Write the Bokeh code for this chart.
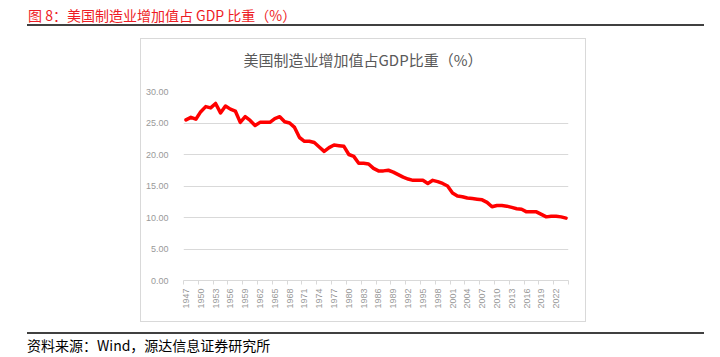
from bokeh.plotting import figure
from bokeh.layouts import column, row
from bokeh.models import Div, Spacer, Range1d, FixedTicker, PrintfTickFormatter
from bokeh.embed import file_html
from bokeh.resources import INLINE

years = list(range(1947, 2025))
share = [25.5, 25.9, 25.6, 26.8, 27.6, 27.4, 28.1, 26.6, 27.7, 27.2,
         26.9, 25.1, 26.0, 25.4, 24.6, 25.1, 25.1, 25.1, 25.7, 26.0,
         25.2, 25.0, 24.3, 22.7, 22.1, 22.1, 21.9, 21.2, 20.5, 21.1,
         21.5, 21.4, 21.3, 20.0, 19.7, 18.6, 18.6, 18.5, 17.8, 17.4,
         17.4, 17.5, 17.2, 16.8, 16.4, 16.1, 15.9, 15.9, 15.9, 15.4,
         15.9, 15.7, 15.4, 15.0, 13.9, 13.4, 13.3, 13.1, 13.0, 12.9,
         12.8, 12.4, 11.7, 11.9, 11.9, 11.8, 11.6, 11.4, 11.3, 10.9,
         10.9, 10.9, 10.5, 10.1, 10.2, 10.2, 10.1, 9.9]
tick_years = list(range(1947, 2023, 3))
y_ticks = [0, 5, 10, 15, 20, 25, 30]

outer_title = "图 8：美国制造业增加值占 GDP 比重（%）"
chart_title = "美国制造业增加值占GDP比重（%）"
source_text = "资料来源：Wind，源达信息证券研究所"

CJK = "'Noto Sans CJK SC', 'Noto Sans', sans-serif"

title_div = Div(
    text=(f'<div style="margin-left:27px;margin-top:8px;width:677px;height:18px;'
          f'border-bottom:2px solid #404040;font-family:{CJK};font-size:14px;'
          f'line-height:15px;color:#EE1C25;white-space:nowrap;padding-left:1px;">'
          f'{outer_title}</div>'),
    width=720, height=38, margin=0)

chart_title_div = Div(
    text=(f'<div style="width:444px;margin-top:12px;text-align:center;'
          f'font-family:{CJK};font-size:15px;line-height:18px;color:#595959;'
          f'white-space:nowrap;">{chart_title}</div>'),
    width=444, height=40, margin=0)

p = figure(width=444, height=242, output_backend="svg", toolbar_location=None,
           x_range=Range1d(1946.5, 2024.5), y_range=Range1d(0, 30),
           min_border_left=42, min_border_right=17, min_border_top=12,
           min_border_bottom=41, margin=0)
p.outline_line_color = None
p.background_fill_color = "white"
p.border_fill_color = "white"

p.line(years, share, line_color="#FF0000", line_width=3.5, line_join="round",
       line_cap="round")

p.xgrid.grid_line_color = None
p.ygrid.ticker = FixedTicker(ticks=y_ticks)
p.ygrid.grid_line_color = "#d9d9d9"
p.ygrid.grid_line_width = 1

p.yaxis.ticker = FixedTicker(ticks=y_ticks)
p.yaxis.formatter = PrintfTickFormatter(format="%.2f")
p.yaxis.axis_line_color = None
p.yaxis.major_tick_line_color = None
p.yaxis.minor_tick_line_color = None
p.yaxis.major_label_standoff = 9
p.yaxis.major_label_text_font = "Liberation Sans"
p.yaxis.major_label_text_font_size = "9px"
p.yaxis.major_label_text_color = "#999999"

minor = [1946.5 + 3 * k for k in range(27)]
p.xaxis.ticker = FixedTicker(ticks=tick_years, minor_ticks=minor)
p.xaxis.major_label_orientation = 1.5708
p.xaxis.axis_line_color = "#d9d9d9"
p.xaxis.major_tick_line_color = None
p.xaxis.major_tick_out = 0
p.xaxis.major_tick_in = 0
p.xaxis.minor_tick_line_color = "#d9d9d9"
p.xaxis.minor_tick_out = 4
p.xaxis.minor_tick_in = 0
p.xaxis.major_label_standoff = 4
p.xaxis.major_label_text_font = "Liberation Sans"
p.xaxis.major_label_text_font_size = "9px"
p.xaxis.major_label_text_color = "#999999"

chart_box = column(chart_title_div, p, width=446, height=284, margin=0,
                   styles={"border": "1px solid #d9d9d9",
                           "box-sizing": "border-box"})

chart_row = row(Spacer(width=140, height=284, margin=0), chart_box, margin=0)

footer_div = Div(
    text=(f'<div style="margin-left:27px;width:677px;margin-top:10px;'
          f'border-top:2px solid #404040;padding-top:3px;font-family:{CJK};'
          f'font-size:14px;line-height:16px;color:#000000;white-space:nowrap;">'
          f'{source_text}</div>'),
    width=720, height=35, margin=0)

layout = column(title_div, chart_row, footer_div, margin=0)

open("out.html", "w").write(file_html(layout, INLINE))
